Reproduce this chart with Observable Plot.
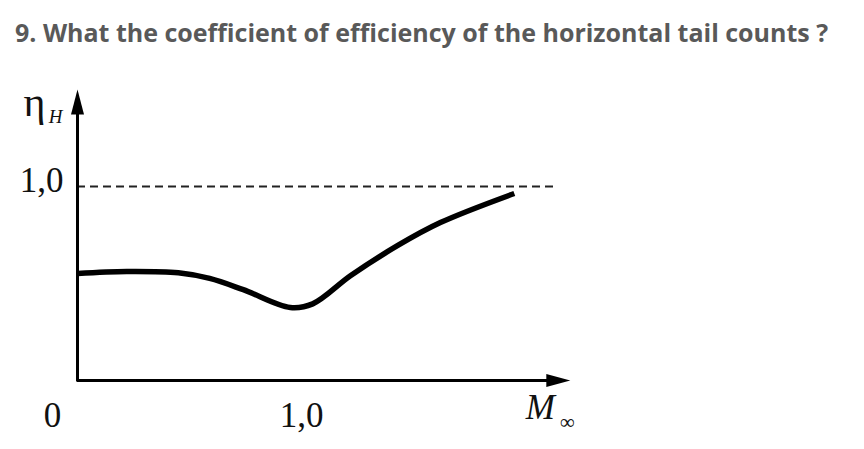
<!DOCTYPE html>
<html>
<head>
<meta charset="utf-8">
<script src="https://cdn.jsdelivr.net/npm/d3@7"></script>
<script src="https://cdn.jsdelivr.net/npm/@observablehq/plot@0.6"></script>
<style>
  html, body { margin: 0; padding: 0; background: #fff; }
  #title {
    box-sizing: border-box; height: 66px; margin: 0; padding: 12px 0 0 15px;
    font-family: "Open Sans", sans-serif; font-weight: 700; font-size: 25px;
    line-height: 40px; color: #595959; white-space: nowrap;
  }
  #chart svg { display: block; }
</style>
</head>
<body>
<div id="title">9. What the coefficient of efficiency of the horizontal tail counts ?</div>
<div id="chart"></div>
<script>
// Curve: Mach number vs horizontal-tail efficiency
const mach = [0, 0.22, 0.45, 0.59, 0.74, 0.95, 1.05, 1.22, 1.43, 1.62, 1.95];
const eta  = [0.552, 0.562, 0.555, 0.526, 0.468, 0.376, 0.395, 0.541, 0.696, 0.814, 0.964];

// Reference level
const refLevel = 1.0;
const refEnd = 2.13;

// Axis extents
const xAxisEnd = 2.2;   // arrow tip (Mach)
const yAxisEnd = 1.5;   // arrow tip (eta)

// Tick labels
const xTickValues = [0, 1];
const xTickLabels = ["0", "1,0"];
const xTickShift = [-25, 0];
const yTickValues = [1];
const yTickLabels = ["1,0"];
const xAxisLabel = "M";
const xAxisSub = "∞";
const yAxisLabel = "η";
const yAxisSub = "H";

const curve = mach.map((m, i) => ({m, e: eta[i]}));

const arrowUp = { draw(ctx) { ctx.moveTo(0, 0); ctx.lineTo(-6.5, 25); ctx.lineTo(6.5, 25); ctx.closePath(); } };
const arrowRight = { draw(ctx) { ctx.moveTo(0, 0); ctx.lineTo(-24, -6.5); ctx.lineTo(-24, 6.5); ctx.closePath(); } };

const ink = "#111";
const serif = "Liberation Serif, Times New Roman, serif";

const plot = Plot.plot({
  width: 864,
  height: 383,
  marginLeft: 77,
  marginRight: 227,
  marginTop: 23,
  marginBottom: 69,
  x: { domain: [0, 2.5], axis: null },
  y: { domain: [0, 1.5], axis: null },
  style: { background: "#fff", overflow: "visible" },
  marks: [
    // dashed reference line
    Plot.ruleY([refLevel], { x1: 0, x2: refEnd, stroke: "#222", strokeWidth: 2, strokeDasharray: "8,5" }),
    // axes
    Plot.ruleX([0], { y1: -0.008, y2: yAxisEnd - 0.11, stroke: "#000", strokeWidth: 3 }),
    Plot.ruleY([0], { x1: 0, x2: xAxisEnd - 0.09, stroke: "#000", strokeWidth: 3 }),
    Plot.dot([{x: 0, y: yAxisEnd}], { x: "x", y: "y", symbol: arrowUp, fill: "#000", stroke: null, r: 5 }),
    Plot.dot([{x: xAxisEnd, y: 0}], { x: "x", y: "y", symbol: arrowRight, fill: "#000", stroke: null, r: 5 }),
    // curve
    Plot.line(curve, { x: "m", y: "e", curve: "catmull-rom", stroke: "#000", strokeWidth: 5.5, strokeLinecap: "butt" }),
    // x tick labels
    Plot.text(xTickValues.map((v, i) => ({v, t: xTickLabels[i], s: xTickShift[i]})), {
      x: (d) => d.v + d.s / 224, y: () => 0, text: "t", dy: 35,
      fontFamily: serif, fontSize: 35, fill: ink
    }),
    // y tick labels
    Plot.text(yTickValues.map((v, i) => ({v, t: yTickLabels[i]})), {
      x: () => 0, y: "v", text: "t", dx: -14, dy: -6, textAnchor: "end",
      fontFamily: serif, fontSize: 35, fill: ink
    }),
    // axis labels
    Plot.text([xAxisLabel], { x: () => xAxisEnd, y: () => 0, text: (d) => d, dx: -30, dy: 27, fontStyle: "italic", fontFamily: serif, fontSize: 35, fill: ink }),
    Plot.text([xAxisSub], { x: () => xAxisEnd, y: () => 0, text: (d) => d, dx: -3, dy: 42, fontFamily: serif, fontSize: 21, fill: ink }),
    Plot.text([yAxisLabel], { x: () => 0, y: () => yAxisEnd, text: (d) => d, dx: -43, dy: 13, fontFamily: serif, fontSize: 42, fill: ink }),
    Plot.text([yAxisSub], { x: () => 0, y: () => yAxisEnd, text: (d) => d, dx: -22, dy: 27, fontStyle: "italic", fontFamily: serif, fontSize: 19, fill: ink })
  ]
});
document.getElementById("chart").appendChild(plot);
</script>
</body>
</html>
